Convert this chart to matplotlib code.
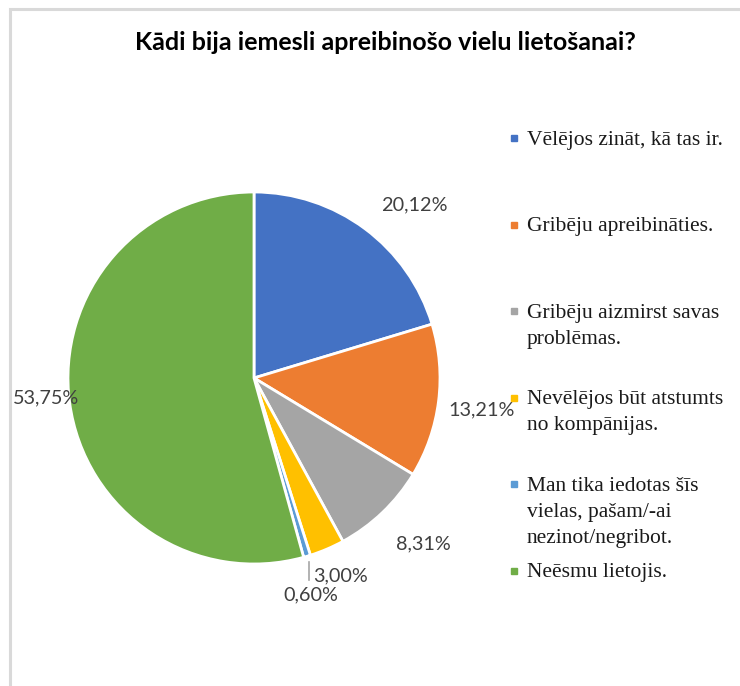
import numpy as np
import matplotlib
matplotlib.use('Agg')
import matplotlib.pyplot as plt

# Dati del grafico
title = 'Kādi bija iemesli apreibinošo vielu lietošanai?'
categories = [
    'Vēlējos zināt, kā tas ir.',
    'Gribēju apreibināties.',
    'Gribēju aizmirst savas\nproblēmas.',
    'Nevēlējos būt atstumts\nno kompānijas.',
    'Man tika iedotas šīs\nvielas, pašam/-ai\nnezinot/negribot.',
    'Neēsmu lietojis.',
]
values = [20.12, 13.21, 8.31, 3.00, 0.60, 53.75]
value_labels = ['20,12%', '13,21%', '8,31%', '3,00%', '0,60%', '53,75%']
colors = ['#4472C4', '#ED7D31', '#A5A5A5', '#FFC000', '#5B9BD5', '#70AD47']

# Posizione delle etichette (distanza dal centro e piccolo spostamento angolare)
label_radius = [1.27, 1.235, 1.274, 1.16, 1.205, 1.125]
label_shift = [-6.2, -0.8, 1.9, 0.6, -2.0, -2.2]

W, H = 740, 686
fig = plt.figure(figsize=(W / 100, H / 100), dpi=100)

# Asse della torta: centro (254, 378) px, raggio 186 px
cx, cy, r = 254, 378, 186
ax = fig.add_axes([(cx - r) / W, (H - cy - r) / H, 2 * r / W, 2 * r / H])
wedges, _ = ax.pie(values, colors=colors, startangle=90, counterclock=False,
                   radius=1.0, wedgeprops=dict(edgecolor='white', linewidth=2))
ax.set_xlim(-1, 1)
ax.set_ylim(-1, 1)
ax.set_aspect('equal')
ax.axis('off')

# Etichette percentuali
label_font = dict(family='Lato', fontsize=14.3, color='#404040')
for i, w in enumerate(wedges):
    mid = np.deg2rad((w.theta1 + w.theta2) / 2)
    ang = mid + np.deg2rad(label_shift[i])
    lx = label_radius[i] * np.cos(ang)
    ly = label_radius[i] * np.sin(ang)
    ax.text(lx, ly, value_labels[i], ha='center', va='center', clip_on=False, **label_font)
    if values[i] < 1:
        # linea guida per la fetta piccola
        ex, ey = 1.03 * np.cos(mid), 1.03 * np.sin(mid)
        ax.plot([ex, ex], [ey, ly + 0.08], color='#A6A6A6', linewidth=1.2, clip_on=False)

# Overlay in coordinate pixel per titolo, legenda e bordo
ov = fig.add_axes([0, 0, 1, 1])
ov.set_xlim(0, W)
ov.set_ylim(H, 0)
ov.axis('off')
ov.patch.set_alpha(0)

ov.plot([9.5, 9.5, W], [H, 8.5, 8.5], color='#D9D9D9', linewidth=2.2, solid_joinstyle='miter')

ov.text(385, 50, title, ha='center', va='baseline', family='Lato',
        fontweight='bold', fontsize=18, color='black')

# Legenda manuale (voci distribuite in altezza come in Excel)
leg_top, leg_step, line_h = 138, 86.6, 26
for i, (cat, col) in enumerate(zip(categories, colors)):
    y0 = leg_top + i * leg_step
    ov.add_patch(plt.Rectangle((511, y0 - 3), 6, 6, color=col))
    for j, line in enumerate(cat.split('\n')):
        ov.text(527, y0 + j * line_h + 6.5, line, ha='left', va='baseline',
                family='Liberation Serif', fontsize=15.5, color='#1a1a1a')

plt.savefig('out.png', dpi=100)
plt.close()
